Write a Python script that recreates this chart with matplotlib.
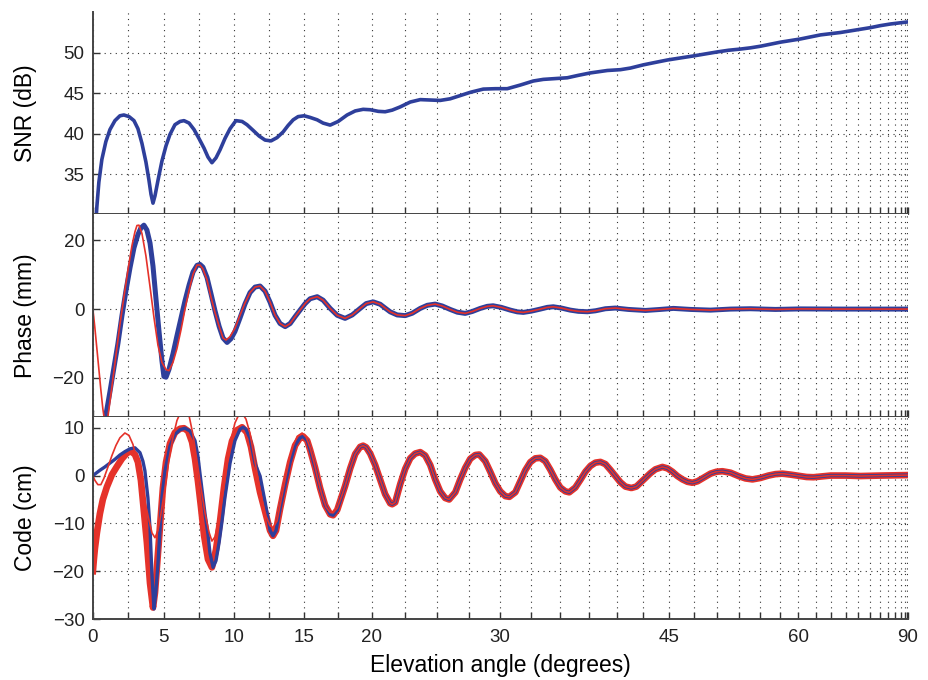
import numpy as np
import matplotlib.pyplot as plt
from matplotlib.ticker import FixedLocator, FuncFormatter

# values (elevation in degrees)
snr_elev = [0.14, 0.28, 0.42, 0.63, 0.91, 1.20, 1.55, 1.90, 2.18, 2.54, 2.89, 3.17, 3.45, 3.73,
            3.94, 4.09, 4.23, 4.37, 4.58, 4.86, 5.15, 5.43, 5.78, 6.14, 6.42, 6.78, 7.13, 7.48,
            7.84, 8.12, 8.40, 8.69, 8.98, 9.33, 9.69, 10.11, 10.55, 10.90, 11.34, 11.77, 12.20,
            12.63, 13.06, 13.50, 13.86, 14.23, 14.59, 15.03, 15.46, 15.98, 16.41, 16.93, 17.52,
            18.18, 18.78, 19.37, 19.90, 20.50, 21.02, 21.55, 22.16, 22.92, 23.69, 24.46, 25.23,
            26.01, 26.80, 27.59, 28.63, 29.60, 30.57, 31.64, 32.72, 33.56, 34.58, 35.61, 36.57,
            37.63, 39.16, 40.35, 41.28, 42.51, 43.66, 44.85, 46.15, 47.49, 48.75, 50.05, 51.27,
            52.64, 53.81, 55.02, 56.27, 57.55, 58.90, 60.30, 61.74, 63.27, 64.89, 66.60, 68.44,
            70.44, 72.65, 75.19, 78.27, 82.48, 90.00]
snr_db = [27.0, 31.0, 34.0, 36.8, 39.0, 40.5, 41.6, 42.2, 42.3, 42.1, 41.6, 40.6, 38.8, 36.5,
          34.3, 32.5, 31.4, 32.3, 34.2, 36.6, 38.5, 39.9, 41.1, 41.5, 41.6, 41.3, 40.5, 39.4,
          38.2, 37.1, 36.4, 37.0, 38.0, 39.4, 40.6, 41.6, 41.5, 41.1, 40.4, 39.7, 39.2,
          39.1, 39.5, 40.2, 41.0, 41.7, 42.1, 42.2, 42.0, 41.7, 41.3, 41.05, 41.5,
          42.3, 42.8, 43.0, 42.95, 42.75, 42.7, 42.9, 43.3, 43.9, 44.2, 44.15, 44.1,
          44.3, 44.7, 45.1, 45.5, 45.55, 45.55, 46.0, 46.5, 46.7, 46.8, 46.9, 47.2,
          47.5, 47.8, 47.9, 48.1, 48.5, 48.8, 49.1, 49.35, 49.6, 49.85, 50.1, 50.3,
          50.45, 50.6, 50.8, 51.05, 51.3, 51.5, 51.7, 51.95, 52.2, 52.35, 52.5, 52.7,
          52.9, 53.1, 53.35, 53.55, 53.7, 53.8]

phase_blue_elev = [0.49, 0.91, 1.20, 1.48, 1.76, 2.04, 2.32, 2.61, 2.89, 3.17, 3.38, 3.59, 3.80,
                   4.02, 4.23, 4.44, 4.65, 4.86, 5.00, 5.15, 5.36, 5.64, 5.92, 6.21, 6.49, 6.78,
                   7.06, 7.34, 7.55, 7.76, 8.05, 8.33, 8.62, 8.91, 9.19, 9.48, 9.76, 10.04,
                   10.40, 10.76, 11.12, 11.48, 11.84, 12.20, 12.56, 12.92, 13.28, 13.65, 14.01,
                   14.37, 14.73, 15.10, 15.46, 15.98, 16.41, 16.93, 17.45, 18.03, 18.56, 19.15,
                   19.60, 20.12, 20.65, 21.02, 21.40, 21.93, 22.54, 23.08, 23.69, 24.23, 24.84,
                   25.39, 26.01, 26.57, 27.19, 27.75, 28.39, 28.95, 29.42, 30.08, 30.82, 31.39,
                   31.89, 32.55, 33.31, 33.90, 34.41, 35.10, 35.87, 36.57, 37.37, 38.08, 38.98,
                   39.89, 41.09, 42.70, 44.15, 45.44, 47.17, 49.29, 51.50, 53.81, 56.91, 60.30,
                   66.60, 90.00]
phase_blue_mm = [-41.0, -30.9, -24.0, -17.0, -10.0, -2.0, 5.2, 12.0, 17.8, 21.7, 23.6, 24.4, 23.0,
                 19.2, 12.5, 3.0, -6.3, -15.0, -19.6, -19.8, -17.5, -13.0, -7.8, -2.6, 2.4, 7.0,
                 10.8, 12.7, 13.0, 12.2, 9.2, 4.5, -0.5, -5.0, -8.4, -9.7, -8.6, -6.5,
                 -2.6, 1.5, 4.8, 6.4, 6.7, 5.2, 2.0, -1.8, -4.2, -5.1, -4.2,
                 -2.2, -0.3, 1.6, 3.0, 3.6, 2.6, 0.2, -1.8, -2.7, -1.7, 0.2,
                 1.6, 2.1, 1.4, 0.3, -0.8, -1.7, -1.9, -1.2, 0.2, 1.1, 1.45,
                 0.9, -0.1, -0.9, -1.25, -0.7, 0.2, 0.8, 0.96, 0.5, -0.3, -0.8,
                 -0.96, -0.6, 0.0, 0.5, 0.67, 0.3, -0.3, -0.65, -0.77, -0.5, 0.1,
                 0.3, -0.1, -0.4, -0.1, 0.2, -0.1, -0.3, 0.0, 0.1, -0.1, 0.05,
                 0.0, 0.0]

phase_red_elev = [0.00, 0.14, 0.28, 0.42, 0.56, 0.70, 0.84, 0.98, 1.13, 1.34, 1.62, 1.90, 2.18,
                  2.47, 2.75, 2.96, 3.10, 3.24, 3.45, 3.73, 4.02, 4.30, 4.58, 4.86, 5.15, 5.36,
                  5.64, 5.92, 6.21, 6.49, 6.78, 7.06, 7.34, 7.55, 7.76, 8.05, 8.33, 8.62, 8.91,
                  9.19, 9.40, 9.69, 10.04, 10.40, 10.76, 11.12]
phase_red_mm = [0.0, -5.5, -11.5, -17.5, -23.5, -29.0, -33.0, -33.5, -29.0, -22.5, -13.5, -4.5, 3.5,
                11.5, 18.5, 22.5, 24.3, 24.4, 22.0, 15.5, 6.5, -2.5, -10.5, -15.5, -17.6, -17.9,
                -15.5, -11.5, -6.0, 0.0, 5.5, 10.1, 12.8, 12.8, 11.7, 8.5, 3.5, -1.0, -5.0,
                -8.4, -9.0, -8.0, -5.6, -1.8, 1.8, 4.8]

code_blue_elev = [0.00, 0.49, 0.84, 1.20, 1.55, 1.90, 2.25, 2.61, 2.96, 3.31, 3.52, 3.66, 3.87,
                  4.02, 4.16, 4.30, 4.44, 4.58, 4.72, 4.86, 5.08, 5.43, 5.78, 6.14, 6.49, 6.85,
                  7.20, 7.41, 7.55, 7.76, 7.91, 8.12, 8.26, 8.48, 8.69, 8.91, 9.12, 9.33, 9.69,
                  10.04, 10.40, 10.62, 10.83, 11.12, 11.48, 11.84, 12.20, 12.56, 12.77, 12.99,
                  13.28, 13.65, 14.01, 14.37, 14.73, 14.95, 15.25, 15.46, 15.83, 16.19, 16.56,
                  16.93, 17.15, 17.45, 17.66, 18.03, 18.41, 18.78, 19.15, 19.37, 19.60, 19.90,
                  20.27, 20.65, 21.02, 21.40, 21.55, 21.78, 22.16, 22.54, 22.92, 23.30, 23.69,
                  24.07, 24.46, 24.84, 25.23, 25.62, 25.93, 26.41, 26.80, 27.19, 27.59, 27.99,
                  28.31, 28.79, 29.19, 29.60, 30.00, 30.41, 30.74, 31.23, 31.64, 32.05, 32.47,
                  32.89, 33.31, 33.73, 34.16, 34.58, 35.01, 35.44, 35.78, 36.31, 36.75, 37.19,
                  37.63, 38.08, 38.53, 38.98, 39.43, 39.89, 40.35, 40.81, 41.37, 41.84, 42.22,
                  42.70, 43.18, 43.66, 44.35, 44.85, 45.34, 45.84, 46.35, 46.86, 47.38, 47.91,
                  48.43, 49.29, 49.94, 50.60, 51.50, 52.41, 53.22, 54.05, 55.02, 56.01, 56.91,
                  57.82, 58.90, 60.30, 61.16, 62.19, 63.27, 64.89, 67.50, 70.44, 75.19, 90.00]
code_blue_cm = [0.0, 1.1, 1.8, 2.6, 3.4, 4.3, 5.0, 5.6, 5.8, 4.8, 3.0, 1.0, -4.6,
                -11.0, -21.0, -27.9, -24.0, -18.5, -11.5, -4.6, 1.0, 6.2, 8.6, 9.6, 9.9, 9.3,
                7.3, 4.0, 0.5, -4.5, -8.0, -12.3, -16.2, -19.2, -17.8, -14.0, -9.5, -4.5, 2.6,
                7.3, 9.7, 10.1, 9.7, 7.8, 2.5, -0.1, -5.5, -11.5, -12.6, -11.5,
                -7.0, -1.8, 2.8, 6.3, 7.9, 8.2, 7.3, 5.4, 1.6, -2.6, -6.2,
                -8.1, -8.3, -7.2, -5.4, -2.2, 1.5, 4.5, 6.0, 6.25, 5.9, 4.6,
                2.2, -0.9, -3.9, -5.8, -6.0, -5.6, -1.8, 1.4, 3.6, 4.6, 4.9,
                4.2, 2.2, -0.8, -3.3, -4.7, -5.0, -3.5, -0.8, 1.6, 3.5, 4.3,
                4.4, 3.0, 0.8, -1.6, -3.3, -4.3, -4.45, -3.5, -1.2, 1.1, 2.8,
                3.6, 3.7, 3.0, 1.2, -0.8, -2.5, -3.3, -3.5, -2.5, -0.9, 0.8,
                2.0, 2.7, 2.85, 2.4, 1.2, -0.1, -1.4, -2.3, -2.6, -2.3, -1.5,
                -0.5, 0.5, 1.3, 1.8, 1.5, 0.8, -0.1, -0.8, -1.3, -1.5, -1.2,
                -0.6, 0.4, 0.8, 0.9, 0.6, -0.1, -0.6, -0.8, -0.5, 0.0, 0.3,
                0.4, 0.2, -0.1, -0.3, -0.35, -0.2, 0.0, 0.0, -0.1, 0.0, 0.1]

code_thick_elev = [0.00, 0.07, 0.14, 0.28, 0.49, 0.70, 0.98, 1.34, 1.69, 2.04, 2.39, 2.68, 2.96,
                   3.17, 3.38, 3.59, 3.80, 4.02, 4.23, 4.37, 4.51, 4.72, 4.93, 5.15, 5.43, 5.78,
                   6.14, 6.42, 6.71, 6.99, 7.20, 7.41, 7.62, 7.84, 8.12, 8.40, 8.69, 8.98, 9.26,
                   9.55, 9.83, 10.19, 10.55, 10.90, 11.19, 11.48, 11.84, 12.20]
code_thick_cm = [-20.0, -17.5, -15.3, -12.0, -8.0, -5.0, -2.4, 0.2, 1.9, 3.5, 4.7, 5.1, 4.4,
                 2.8, -1.0, -7.5, -14.0, -22.5, -27.6, -24.5, -19.0, -10.5, -2.6, 2.8, 6.7, 9.0,
                 9.8, 9.9, 9.3, 7.0, 3.5, -1.2, -6.5, -12.5, -17.5, -19.2, -15.5, -9.5, -2.5,
                 3.5, 7.2, 9.5, 10.1, 9.0, 6.0, 1.5, -3.5, -7.5]

code_thin_elev = [0.00, 0.14, 0.35, 0.56, 0.77, 1.06, 1.34, 1.62, 1.90, 2.25, 2.54, 2.82, 3.10,
                  3.38, 3.66, 3.94, 4.16, 4.37, 4.58, 4.79, 5.08, 5.36, 5.64, 5.92, 6.21, 6.49,
                  6.78, 7.06, 7.34, 7.62, 7.91, 8.19, 8.40, 8.62, 8.91, 9.19, 9.48, 9.76, 10.04,
                  10.33, 10.55, 10.83, 11.12, 11.41, 11.70, 11.98, 12.27, 12.56, 12.77, 13.06,
                  13.35, 13.65, 13.94, 14.23, 14.52, 14.88, 15.18, 15.46, 15.76, 16.05, 16.34,
                  16.63, 16.93, 17.15, 17.45, 17.74]
code_thin_cm = [0.0, -1.0, -1.9, -1.9, -0.6, 1.8, 4.2, 6.3, 7.9, 8.9, 8.4, 6.5, 3.0,
                -1.0, -5.5, -9.2, -12.0, -13.0, -11.5, -8.0, -2.5, 3.5, 8.0, 11.5, 13.5, 14.0,
                12.5, 8.5, 3.0, -2.5, -7.8, -11.8, -13.7, -12.8, -8.8, -3.5, 2.5, 7.5, 11.0,
                12.8, 13.1, 11.8, 8.8, 4.0, -0.8, -5.0, -8.5, -10.5, -10.9, -9.5,
                -5.2, -0.8, 3.2, 6.2, 8.2, 8.9, 8.0, 5.8, 2.6, -1.0, -4.2,
                -6.6, -7.7, -7.8, -6.8, -4.6]

# the red curves run on along the blue ones once they agree
phase_red_tail = [(e, v) for e, v in zip(phase_blue_elev, phase_blue_mm) if e > 11.3]
code_thick_tail = [(e, v) for e, v in zip(code_blue_elev, code_blue_cm) if e > 12.5]
code_thin_tail = [(e, v) for e, v in zip(code_blue_elev, code_blue_cm) if e > 17.9]
phase_red_elev = phase_red_elev + [e for e, v in phase_red_tail]
phase_red_mm = phase_red_mm + [v for e, v in phase_red_tail]
code_thick_elev = code_thick_elev + [e for e, v in code_thick_tail]
code_thick_cm = code_thick_cm + [v for e, v in code_thick_tail]
code_thin_elev = code_thin_elev + [e for e, v in code_thin_tail]
code_thin_cm = code_thin_cm + [v for e, v in code_thin_tail]

x_labels = [0, 5, 10, 15, 20, 30, 45, 60, 90]
x_ticks = np.arange(0, 90.01, 2.5)

BLUE = '#2E3F9B'
RED = '#E5322A'

plt.rcParams['font.family'] = ['Liberation Sans', 'DejaVu Sans']


def fwd(x):
    return np.sin(np.radians(np.clip(x, -90, 90)))


def inv(y):
    return np.degrees(np.arcsin(np.clip(y, -1, 1)))


fig, axes = plt.subplots(3, 1, figsize=(9.29, 6.80), dpi=100, sharex=True)
fig.subplots_adjust(left=0.1, right=0.977, bottom=0.0897, top=0.982, hspace=0)

ax1, ax2, ax3 = axes
ax1.plot(snr_elev, snr_db, color=BLUE, lw=2.6, solid_joinstyle='round')
ax2.plot(phase_blue_elev, phase_blue_mm, color=BLUE, lw=3.6, solid_joinstyle='round')
ax2.plot(phase_red_elev, phase_red_mm, color=RED, lw=1.2)
ax3.plot(code_thick_elev, code_thick_cm, color=RED, lw=4.8, solid_joinstyle='round')
ax3.plot(code_blue_elev, code_blue_cm, color=BLUE, lw=2.4, solid_joinstyle='round')
ax3.plot(code_thin_elev, code_thin_cm, color=RED, lw=1.2)

ax1.set_ylim(30, 55)
ax1.set_yticks([35, 40, 45, 50])
ax1.set_ylabel('SNR (dB)', fontsize=16.5)
ax2.set_ylim(-31.3, 27.5)
ax2.set_yticks([-20, 0, 20])
ax2.set_yticklabels(['\u221220', '0', '20'])
ax2.set_ylabel('Phase (mm)', fontsize=16.5)
ax3.set_ylim(-30, 12.3)
ax3.set_yticks([-30, -20, -10, 0, 10])
ax3.set_yticklabels(['\u221230', '\u221220', '\u221210', '0', '10'])
ax3.set_ylabel('Code (cm)', fontsize=16.5)

for ax in axes:
    ax.set_xscale('function', functions=(fwd, inv))
    ax.set_xlim(0, 90)
    ax.xaxis.set_major_locator(FixedLocator(x_ticks))
    ax.xaxis.set_major_formatter(FuncFormatter(
        lambda v, p: f'{v:g}' if round(v, 3) in x_labels else ''))
    ax.xaxis.set_minor_locator(FixedLocator([]))
    ax.spines['top'].set_visible(False)
    ax.spines['right'].set_visible(False)
    for s in ['left', 'bottom']:
        ax.spines[s].set_color('#444444')
        ax.spines[s].set_linewidth(1.4)
    ax.tick_params(direction='in', length=5, width=1.0, color='#333333',
                   labelsize=13.5, labelcolor='#222222')
    ax.tick_params(axis='y', pad=6)
    ax.tick_params(axis='x', pad=7)
    ax.grid(True, linestyle=(0, (1, 4)), linewidth=0.8, color='#333333')
    ax.yaxis.set_label_coords(-0.069, 0.5)

ax3.set_xlabel('Elevation angle (degrees)', fontsize=16.5, labelpad=6)

fig.savefig('out.png', dpi=100)
